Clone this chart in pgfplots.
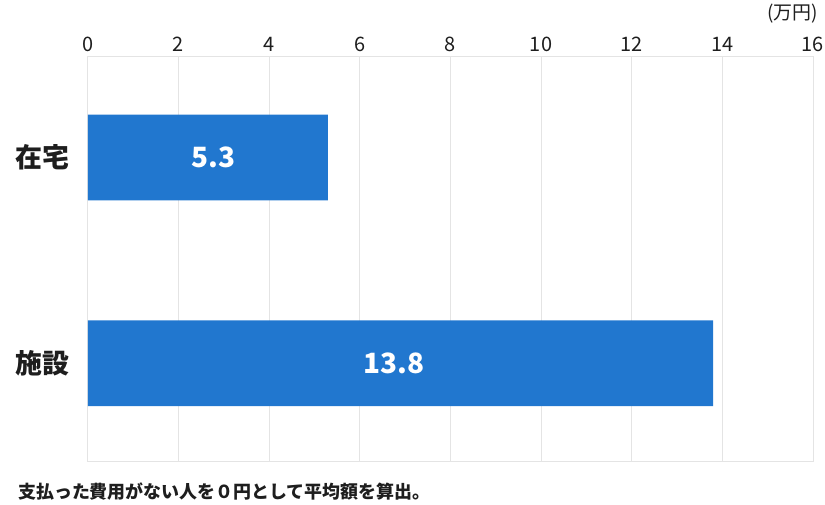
\documentclass[border=0pt]{standalone}
\usepackage{pgfplots}
\pgfplotsset{compat=1.18}
\usepackage{fontspec}
\setmainfont{Noto Sans CJK JP}
\definecolor{barblue}{RGB}{33,119,207}
\definecolor{gridgray}{RGB}{228,228,228}
\definecolor{textdark}{RGB}{30,30,30}
\begin{document}
\begin{tikzpicture}
\begin{axis}[
  xbar,
  width=727bp, height=406bp,
  scale only axis,
  xmin=0, xmax=16,
  xtick={0,2,...,16},
  ymin=-0.49, ymax=1.48,
  y dir=reverse,
  ytick={0,1},
  yticklabels={在宅,施設},
  xticklabel pos=top,
  major tick length=0pt,
  xmajorgrids,
  grid style={gridgray, line width=0.8bp},
  axis line style={gridgray, line width=0.8bp},
  /pgf/number format/assume math mode=true,
  xticklabel style={font=\fontsize{20bp}{22bp}\selectfont, text=textdark, inner sep=1bp, yshift=4bp},
  yticklabel style={font=\bfseries\fontsize{27bp}{30bp}\selectfont, text=textdark, xshift=-15bp},
  bar width=86bp,
  clip=false,
]
\addplot[fill=barblue, draw=none] coordinates {(5.3,0) (13.8,1)};
% value labels at the middle of each bar
\addplot[draw=none, mark=none, forget plot,
  nodes near coords, point meta=explicit symbolic,
  every node near coord/.style={anchor=center, text=white, font=\bfseries\fontsize{28bp}{32bp}\selectfont}]
  coordinates {(2.77,0) [5.3] (6.76,1) [13.8]};
\node[anchor=east, font=\fontsize{19bp}{21bp}\selectfont, text=textdark, inner sep=0pt]
  at ([xshift=5bp,yshift=43bp]axis description cs:1,1) {(万円)};
\node[anchor=west, font=\bfseries\fontsize{18bp}{20bp}\selectfont, text=textdark, inner sep=0pt]
  at ([xshift=-70bp,yshift=-30bp]axis description cs:0,0) {支払った費用がない人を０円として平均額を算出。};
% page frame of the reference
\path ([xshift=-88bp,yshift=-43bp]axis description cs:0,0) rectangle ([xshift=10bp,yshift=57bp]axis description cs:1,1);
\end{axis}
\end{tikzpicture}
\end{document}
